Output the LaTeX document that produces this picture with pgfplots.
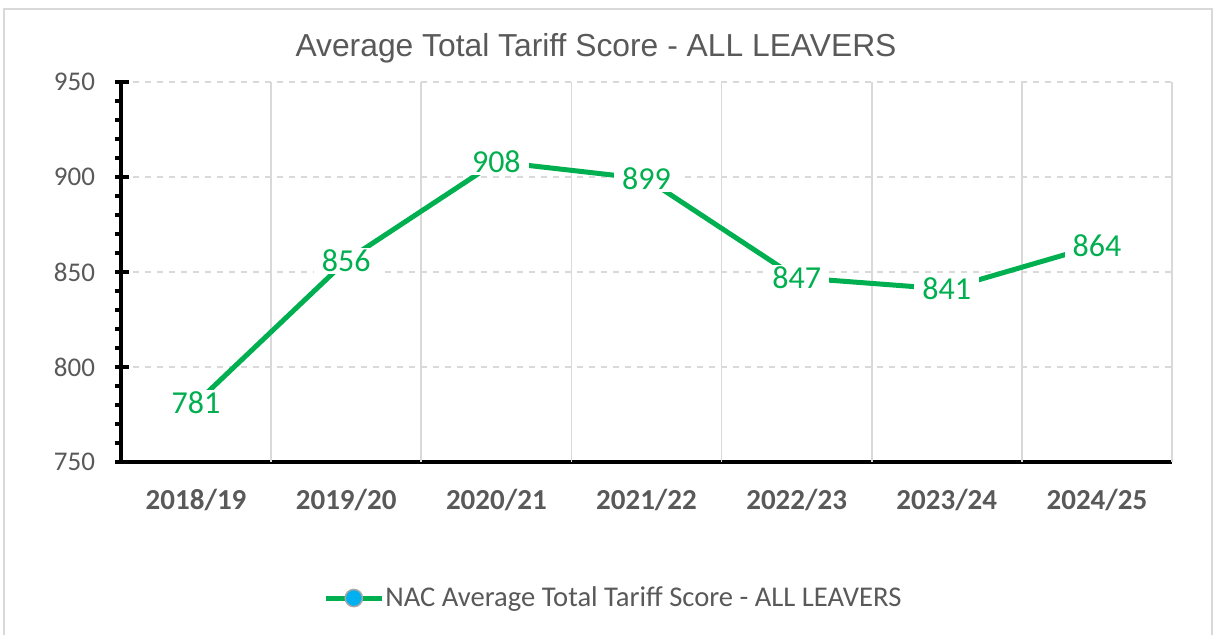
\documentclass[border=0pt]{standalone}
\usepackage{fontspec}
\setmainfont{Carlito}
\newfontfamily\arialfont{Liberation Sans}
\usepackage{pgfplots}
\pgfplotsset{compat=1.18}
\definecolor{xlgreen}{RGB}{0,176,80}
\definecolor{txtgray}{RGB}{89,89,89}
\definecolor{gridgray}{RGB}{217,217,217}
\definecolor{mkblue}{RGB}{0,176,240}
\definecolor{mkgray}{RGB}{166,166,166}
\begin{document}
\begin{tikzpicture}
\useasboundingbox (0,0) rectangle (607pt,-317.5pt);
\draw[gridgray, line width=1pt] (2pt,-4.5pt) rectangle (606pt,-330pt);
\begin{axis}[
  at={(60.5pt,-41pt)}, anchor=north west,
  scale only axis, width=525.5pt, height=190pt,
  xmin=-0.5, xmax=6.5, ymin=750, ymax=950,
  xtick={0,...,6},
  xticklabels={2018/19,2019/20,2020/21,2021/22,2022/23,2023/24,2024/25},
  ytick={750,800,850,900,950},
  minor y tick num=4,
  axis x line*=bottom, axis y line*=left,
  axis line style={line width=2.2pt, black},
  x tick style={draw=none},
  y tick style={black, line width=2.3pt},
  tick align=outside,
  major tick length=7pt,
  minor tick length=3pt,
  every major tick/.append style={xshift=4pt},
  ymajorgrids,
  y grid style={dashed, gridgray, line width=0.75pt},
  extra x ticks={0.5,1.5,2.5,3.5,4.5,5.5,6.5},
  extra x tick labels={},
  extra x tick style={grid=major, major grid style={solid, gridgray, line width=0.9pt}, tick style={draw=none}},
  /pgf/number format/assume math mode=true,
  yticklabel style={font=\fontsize{13.5}{15}\selectfont, text=txtgray, xshift=-2.5pt},
  xticklabel style={font=\bfseries\fontsize{14.5}{16}\selectfont, text=txtgray, yshift=-3pt},
  legend style={at={(0.468,-0.358)}, anchor=center, draw=none, fill=none,
    font=\fontsize{14.3}{16}\selectfont, text=txtgray, nodes={inner ysep=1.5pt, inner xsep=0.5pt}},
  legend image code/.code={\draw[#1] (0pt,0pt) -- (28pt,0pt); \draw[#1] plot coordinates {(14pt,0pt)};},
]
\addplot[xlgreen, line width=2.5pt, mark=*, mark size=4.3pt,
  mark options={fill=mkblue, draw=mkgray, line width=0.75pt},
  nodes near coords,
  every node near coord/.append style={anchor=center, fill=white, inner xsep=4pt, inner ysep=1pt,
    text=xlgreen, font=\fontsize{16}{18}\selectfont}]
  coordinates {(0,781) (1,856) (2,908) (3,899) (4,847) (5,841) (6,864)};
\addlegendentry{NAC Average Total Tariff Score - ALL LEAVERS}
\end{axis}
\node[font=\arialfont\fontsize{15.9}{18}\selectfont, text=txtgray] at (298pt,-24pt) {Average Total Tariff Score - ALL LEAVERS};
\end{tikzpicture}
\end{document}
